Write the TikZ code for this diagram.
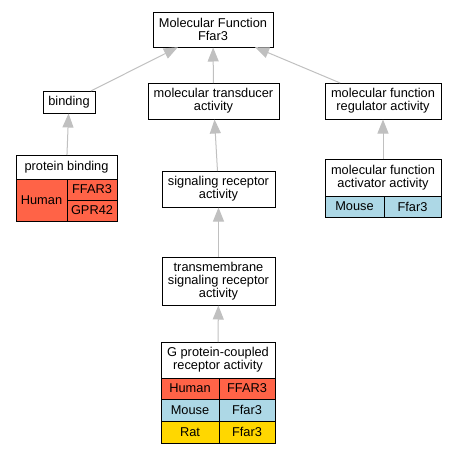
\documentclass[tikz,border=0pt]{standalone}
\usepackage{fontspec}
\setmainfont{Liberation Sans}
\usetikzlibrary{arrows.meta}
\definecolor{human}{HTML}{FF6347}
\definecolor{mouse}{HTML}{ADD8E6}
\definecolor{rat}{HTML}{FFD700}
\definecolor{edgegray}{HTML}{C0C0C0}
\begin{document}
\begin{tikzpicture}[x=1pt,y=-1pt,
  box/.style={draw=black,line width=1pt,inner sep=0pt,outer sep=0pt,align=center,
    font=\fontsize{12.8}{13}\selectfont,fill=white},
  cell/.style={box},
  isa/.style={draw=edgegray,line width=1pt,-{Triangle[length=14pt,width=11pt]},shorten >=0.5pt}]
\useasboundingbox (0,0) rectangle (456,453);
% top level
\node[box,minimum width=120pt,minimum height=35pt] (top) at (213,29.5) {Molecular Function\\Ffar3};
\node[box,minimum width=52pt,minimum height=22pt] (bind) at (69,102) {binding};
\node[box,minimum width=131pt,minimum height=36pt] (trans) at (213.5,101) {molecular transducer\\activity};
\node[box,minimum width=116pt,minimum height=36pt] (reg) at (383,101) {molecular function\\regulator activity};
% protein binding table
\node[box,minimum width=101pt,minimum height=24pt] (pb) at (66.5,167) {protein binding};
\node[cell,fill=human,minimum width=51pt,minimum height=42pt] (pbh) at (41.5,200) {Human};
\node[cell,fill=human,minimum width=50pt,minimum height=21pt] (pbf) at (92,189.5) {FFAR3};
\node[cell,fill=human,minimum width=50pt,minimum height=21pt] (pbg) at (92,210.5) {GPR42};
% signaling
\node[box,minimum width=113pt,minimum height=36pt] (sig) at (218.5,189) {signaling receptor\\activity};
% activator table
\node[box,minimum width=116pt,minimum height=37pt] (act) at (383,177.5) {molecular function\\activator activity};
\node[cell,fill=mouse,minimum width=59pt,minimum height=21pt] (actm) at (354.5,206.5) {Mouse};
\node[cell,fill=mouse,minimum width=57pt,minimum height=21pt] (actf) at (412.5,206.5) {Ffar3};
% transmembrane
\node[box,minimum width=113pt,minimum height=48pt] (tm) at (218.5,281) {transmembrane\\signaling receptor\\activity};
% GPCR table
\node[box,minimum width=114pt,minimum height=36pt] (gp) at (218,360) {G protein-coupled\\receptor activity};
\node[cell,fill=human,minimum width=58pt,minimum height=21pt] (gph) at (190,388.5) {Human};
\node[cell,fill=human,minimum width=56pt,minimum height=21pt] (gphg) at (247,388.5) {FFAR3};
\node[cell,fill=mouse,minimum width=58pt,minimum height=22pt] (gpm) at (190,410) {Mouse};
\node[cell,fill=mouse,minimum width=56pt,minimum height=22pt] (gpmg) at (247,410) {Ffar3};
\node[cell,fill=rat,minimum width=58pt,minimum height=22pt] (gpr) at (190,432) {Rat};
\node[cell,fill=rat,minimum width=56pt,minimum height=22pt] (gprg) at (247,432) {Ffar3};
% edges
\draw[isa] (bind) -- (top);
\draw[isa] (trans) -- (top);
\draw[isa] (reg) -- (top);
\draw[isa] (pb) -- (bind);
\draw[isa] (sig) -- (trans);
\draw[isa] (act) -- (reg);
\draw[isa] (tm) -- (sig);
\draw[isa] (gp) -- (tm);
\end{tikzpicture}
\end{document}
